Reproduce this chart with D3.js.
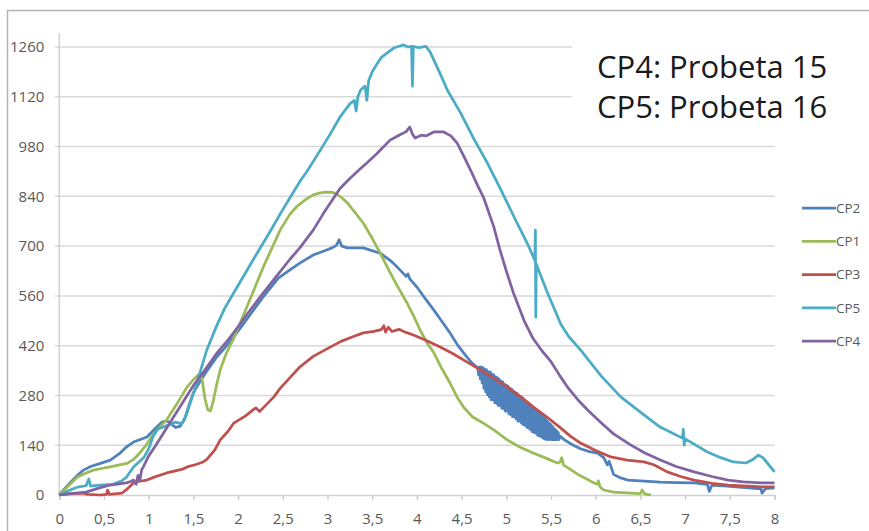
<!DOCTYPE html>
<html><head><meta charset="utf-8">
<script src="https://cdn.jsdelivr.net/npm/d3@7"></script>
<style>
html,body{margin:0;padding:0;background:#fff;}
svg{display:block;}
</style>
</head><body>
<div id="chart"></div>
<script>
// ---------- data ----------
const seriesNames = ["CP2","CP1","CP3","CP5","CP4"];
const seriesColors = ["#4F81BD","#9BBB59","#C0504D","#4BACC6","#8064A2"];
const xTicks = [0,0.5,1,1.5,2,2.5,3,3.5,4,4.5,5,5.5,6,6.5,7,7.5,8];
const yTicks = [0,140,280,420,560,700,840,980,1120,1260];
const noteLines = ["CP4: Probeta 15","CP5: Probeta 16"];

const CP2 = [[0,0],[0.05,15],[0.12,34],[0.2,55],[0.27,70],[0.35,80],[0.46,89],[0.57,98],[0.68,118],[0.75,135],[0.83,149],[0.98,163],[1.09,191],[1.15,205],[1.2,209],[1.25,200],[1.3,190],[1.35,193],[1.4,212],[1.45,252],[1.5,288],[1.57,318],[1.66,352],[1.76,388],[1.85,413],[1.95,444],[2.1,495],[2.28,557],[2.45,610],[2.58,633],[2.69,652],[2.84,675],[2.99,689],[3.05,695],[3.1,702],[3.13,718],[3.16,700],[3.22,695],[3.4,695],[3.59,680],[3.7,660],[3.78,641],[3.88,615],[3.9,622],[3.92,608],[4.0,585],[4.1,550],[4.19,520],[4.28,488],[4.37,456],[4.46,420],[4.56,388],[4.62,370],
[4.68,358],[4.69,338],[4.70,360],[4.71,326],[4.72,360],[4.73,315],[4.74,358],[4.75,300],[4.76,354],[4.77,290],[4.78,352],[4.79,282],[4.80,346],[4.81,276],[4.82,346],[4.83,268],[4.84,340],[4.85,268],[4.86,338],[4.87,260],[4.88,332],[4.89,258],[4.90,330],[4.91,252],[4.92,326],[4.93,252],[4.94,320],[4.95,244],[4.96,318],[4.97,242],[4.98,312],[4.99,236],[5.00,308],[5.01,236],[5.02,306],[5.03,228],[5.04,300],[5.05,226],[5.06,298],[5.07,220],[5.08,292],[5.09,220],[5.10,288],[5.11,214],[5.12,286],[5.13,208],[5.14,280],[5.15,208],[5.16,276],[5.17,202],[5.18,274],[5.19,198],[5.20,268],[5.21,196],[5.22,264],[5.23,190],[5.24,260],[5.25,188],[5.26,254],[5.27,184],[5.28,252],[5.29,178],[5.30,246],[5.31,176],[5.32,242],[5.33,174],[5.34,238],[5.35,168],[5.36,232],[5.37,166],[5.38,228],[5.39,164],[5.40,224],[5.41,160],[5.42,218],[5.43,158],[5.44,214],[5.45,156],[5.46,208],[5.47,156],[5.48,202],[5.49,156],[5.50,198],[5.51,156],[5.52,192],[5.53,156],[5.54,186],[5.55,156],[5.56,182],[5.57,156],[5.58,176],[5.59,156],[5.60,166],
[5.65,155],[5.75,140],[5.83,130],[5.93,122],[6.02,118],[6.09,105],[6.13,85],[6.15,95],[6.2,58],[6.28,48],[6.36,42],[6.5,40],[6.72,36],[6.9,35],[7.1,34],[7.25,30],[7.27,10],[7.3,28],[7.47,25],[7.6,22],[7.85,17],[7.86,5],[7.9,18],[8,20]];

const CP1 = [[0,0],[0.1,25],[0.2,50],[0.3,62],[0.38,70],[0.5,76],[0.57,79],[0.66,84],[0.76,89],[0.83,100],[0.9,118],[0.97,140],[1.06,174],[1.13,193],[1.2,211],[1.3,250],[1.43,304],[1.52,330],[1.58,343],[1.6,320],[1.63,270],[1.66,240],[1.69,236],[1.72,262],[1.76,310],[1.8,352],[1.87,400],[1.95,440],[2.1,530],[2.28,640],[2.47,745],[2.58,790],[2.66,812],[2.75,830],[2.84,844],[2.92,850],[2.99,852],[3.05,851],[3.1,847],[3.16,836],[3.22,822],[3.3,797],[3.4,765],[3.5,722],[3.59,680],[3.68,635],[3.78,588],[3.89,540],[3.96,505],[4.04,462],[4.12,425],[4.19,400],[4.28,355],[4.37,315],[4.45,275],[4.52,248],[4.62,220],[4.73,204],[4.86,183],[5.01,155],[5.15,135],[5.3,118],[5.45,103],[5.57,90],[5.6,92],[5.62,105],[5.64,84],[5.7,75],[5.8,58],[5.9,45],[5.98,34],[6.02,30],[6.03,40],[6.05,22],[6.09,14],[6.2,8],[6.35,6],[6.5,4],[6.52,14],[6.55,3],[6.62,0]];

const CP3 = [[0,0],[0.1,3],[0.27,5],[0.32,2],[0.46,0],[0.53,2],[0.54,14],[0.56,2],[0.7,5],[0.75,15],[0.83,34],[0.88,38],[0.98,42],[1.07,51],[1.2,62],[1.37,72],[1.43,79],[1.52,85],[1.6,92],[1.65,100],[1.74,127],[1.8,155],[1.89,180],[1.95,202],[2.08,222],[2.17,240],[2.2,245],[2.24,235],[2.3,250],[2.4,276],[2.47,300],[2.58,330],[2.69,360],[2.84,390],[3.03,416],[3.15,432],[3.29,446],[3.4,456],[3.52,460],[3.6,465],[3.63,476],[3.65,458],[3.68,472],[3.72,460],[3.8,466],[3.87,458],[3.96,450],[4.1,435],[4.26,416],[4.4,398],[4.52,380],[4.6,368],[4.71,352],[4.85,330],[5.01,304],[5.15,278],[5.3,248],[5.45,220],[5.61,188],[5.72,165],[5.83,146],[6.0,125],[6.17,107],[6.35,98],[6.54,93],[6.65,85],[6.8,65],[6.95,52],[7.1,42],[7.3,33],[7.48,28],[7.7,25],[7.85,23],[8,23]];

const CP5 = [[0,0],[0.1,12],[0.2,22],[0.3,26],[0.33,45],[0.35,25],[0.45,28],[0.6,30],[0.7,40],[0.75,50],[0.83,79],[0.9,95],[0.95,107],[1.0,130],[1.05,165],[1.1,185],[1.2,195],[1.3,205],[1.37,200],[1.42,225],[1.5,285],[1.58,350],[1.65,408],[1.75,470],[1.85,525],[1.95,568],[2.1,632],[2.2,675],[2.36,742],[2.47,790],[2.58,836],[2.7,885],[2.77,910],[2.92,970],[3.03,1015],[3.14,1063],[3.25,1100],[3.3,1110],[3.32,1080],[3.34,1120],[3.37,1139],[3.42,1150],[3.44,1110],[3.46,1165],[3.5,1190],[3.56,1215],[3.6,1230],[3.65,1240],[3.74,1257],[3.8,1262],[3.85,1266],[3.9,1260],[3.94,1262],[3.95,1150],[3.96,1262],[4.02,1258],[4.1,1262],[4.15,1245],[4.19,1223],[4.26,1185],[4.34,1139],[4.49,1074],[4.64,1000],[4.79,933],[4.94,858],[5.12,765],[5.24,705],[5.32,660],[5.325,745],[5.33,500],[5.335,650],[5.45,575],[5.61,480],[5.7,445],[5.83,408],[6.06,335],[6.28,276],[6.5,233],[6.72,191],[6.85,175],[6.97,160],[6.98,185],[6.99,140],[7.0,158],[7.25,121],[7.4,105],[7.54,93],[7.68,90],[7.76,100],[7.82,112],[7.87,105],[7.92,90],[8,65]];

const CP4 = [[0,0],[0.1,3],[0.3,8],[0.45,20],[0.57,28],[0.75,34],[0.8,38],[0.83,42],[0.86,30],[0.88,55],[0.9,40],[0.92,70],[0.94,79],[1.0,110],[1.08,140],[1.18,180],[1.28,220],[1.43,280],[1.5,308],[1.63,352],[1.76,398],[1.9,440],[2.02,480],[2.1,508],[2.28,568],[2.45,622],[2.58,663],[2.69,695],[2.84,745],[2.95,790],[3.05,828],[3.14,862],[3.25,890],[3.37,918],[3.44,934],[3.55,960],[3.7,998],[3.8,1012],[3.88,1022],[3.92,1035],[3.95,1015],[3.98,1004],[4.05,1012],[4.1,1010],[4.19,1021],[4.3,1021],[4.38,1010],[4.45,990],[4.52,955],[4.6,914],[4.68,870],[4.75,834],[4.86,754],[4.93,689],[5.0,630],[5.08,568],[5.2,490],[5.3,440],[5.4,405],[5.5,375],[5.6,335],[5.68,305],[5.8,268],[5.91,239],[6.06,203],[6.2,172],[6.39,141],[6.55,118],[6.73,98],[6.9,80],[7.1,65],[7.3,52],[7.48,42],[7.65,37],[7.85,34],[8,34]];

const seriesData = [CP2, CP1, CP3, CP5, CP4];

// ---------- layout ----------
const W = 869, H = 531;
const svg = d3.select("#chart").append("svg").attr("width", W).attr("height", H);

const x = d3.scaleLinear().domain([0, 8]).range([59.3, 774.5]);
const y = d3.scaleLinear().domain([0, 1260]).range([495, 47]);

// outer frame
svg.append("rect").attr("x", 7.5).attr("y", 10.5).attr("width", 1000).attr("height", 1000)
  .attr("fill", "none").attr("stroke", "#b3b3b3").attr("stroke-width", 1.5);

// gridlines
svg.append("g").selectAll("line").data(yTicks.filter(d => d > 0)).join("line")
  .attr("x1", 55).attr("x2", x(8)).attr("y1", d => y(d)).attr("y2", d => y(d))
  .attr("stroke", "#d9d9d9").attr("stroke-width", 1.5);

// y axis
const yAxis = svg.append("g").attr("transform", `translate(${x(0)},0)`)
  .call(d3.axisLeft(y).tickValues(yTicks).tickSize(0).tickPadding(15).tickFormat(d3.format("d")));
yAxis.select(".domain").remove();
yAxis.selectAll("text").attr("fill", "#595959").style("font-family", "'Open Sans', sans-serif").style("font-size", "15px");
svg.append("line").attr("x1", x(0)).attr("x2", x(0)).attr("y1", 33).attr("y2", y(0))
  .attr("stroke", "#d0d0d0").attr("stroke-width", 1.5);

// x axis
const xAxis = svg.append("g").attr("transform", `translate(0,${y(0)})`)
  .call(d3.axisBottom(x).tickValues(xTicks).tickSize(5).tickFormat(d => String(d).replace(".", ",")));
xAxis.select(".domain").attr("stroke", "#d0d0d0").attr("stroke-width", 1.5);
xAxis.selectAll(".tick line").attr("stroke", "#d0d0d0").attr("stroke-width", 1.5);
xAxis.selectAll("text").attr("fill", "#595959").attr("y", 29).attr("dy", null)
  .style("font-family", "'Open Sans', sans-serif").style("font-size", "15px");

// text box covering gridlines
svg.append("rect").attr("x", 572).attr("y", 36).attr("width", 300).attr("height", 98).attr("fill", "#fff");
svg.append("g").selectAll("text").data(noteLines).join("text")
  .attr("x", 597).attr("y", (d, i) => 78 + i * 40)
  .attr("fill", "#1a1a1a")
  .style("font-family", "'Open Sans', sans-serif").style("font-size", "31px")
  .text(d => d);

// series
const line = d3.line().x(d => x(d[0])).y(d => y(d[1]));
svg.append("g").selectAll("path").data(seriesData).join("path")
  .attr("d", d => line(d))
  .attr("fill", "none")
  .attr("stroke", (d, i) => seriesColors[i])
  .attr("stroke-width", 2.75)
  .attr("stroke-linejoin", "round");

// legend
const leg = svg.append("g").selectAll("g").data(seriesNames).join("g")
  .attr("transform", (d, i) => `translate(802,${208 + i * 33.3})`);
leg.append("line").attr("x1", 0).attr("x2", 34).attr("y1", 0).attr("y2", 0)
  .attr("stroke", (d, i) => seriesColors[i]).attr("stroke-width", 2.75);
leg.append("text").attr("x", 34).attr("y", 0).attr("dy", "0.35em")
  .attr("fill", "#595959")
  .style("font-family", "'Open Sans', sans-serif").style("font-size", "13.5px")
  .text(d => d);
</script>
</body></html>
